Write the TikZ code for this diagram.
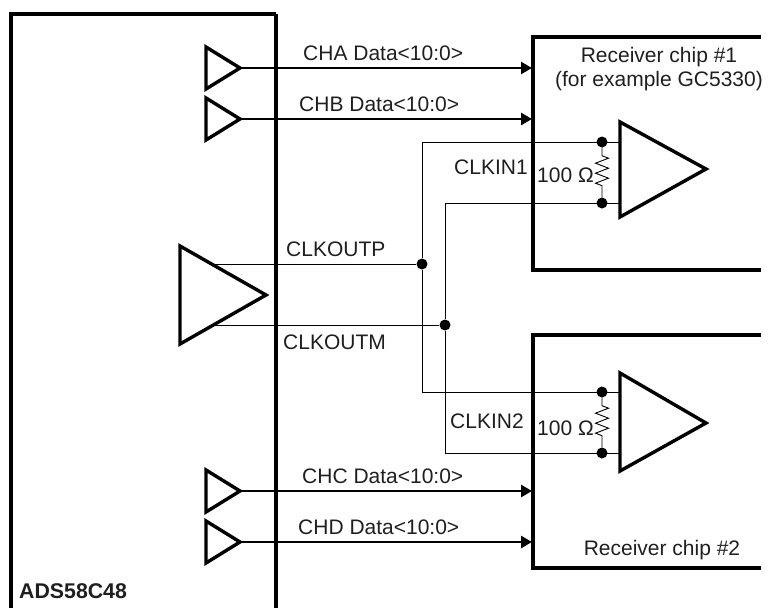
\documentclass[tikz,border=0pt]{standalone}
\usepackage{fontspec}
\setmainfont{Liberation Sans}
\usetikzlibrary{arrows.meta,decorations.pathmorphing}
\tikzset{
  gate/.style={draw=black,line width=3.4pt,miter limit=10,fill=white},
  chipline/.style={draw=black,line width=3.6pt},
  bus/.style={draw=black,line width=2.7pt,-{Triangle[length=11pt,width=12pt]}},
  clkwire/.style={draw=black,line width=1pt},
  dotnode/.style={circle,fill=black,inner sep=0pt,minimum size=#1},
  lbl/.style={inner sep=0pt,text=black!88,font=\fontsize{21}{25}\selectfont},
  res/.style={draw=black,line width=0.9pt,decorate,decoration={zigzag,amplitude=6.5pt,segment length=10pt,pre length=8pt,post length=8pt}}
}
\begin{document}
\begin{tikzpicture}[x=1pt,y=-1pt]
 \useasboundingbox (0,0) rectangle (768,611);
 % big chip
 \draw[chipline,line width=4.4pt] (276,14) -- (11,14) -- (11,608);
 \draw[chipline] (276,14) -- (276,608);
 \node[lbl,anchor=west,font=\fontsize{21.3}{25}\selectfont\bfseries] (adsname) at (19,591) {ADS58C48};
 % receiver chips
 \foreach \rx/\t/\b in {one/37/270,two/335/568}
   \draw[chipline] (761,\t) -- (533,\t) -- (533,\b) -- (761,\b);
 % clock driver and its wires
 \coordinate (clkp) at (215,264);
 \coordinate (clkm) at (215,325);
 \node[dotnode=11pt] (jointp) at (422,264) {};
 \node[dotnode=11pt] (jointm) at (445,325) {};
 \coordinate (upp) at (422,142);
 \coordinate (upm) at (445,203);
 \coordinate (downp) at (422,392);
 \coordinate (downm) at (445,453);
 \draw[clkwire] (clkp) -- (jointp);
 \draw[clkwire] (clkm) -- (jointm);
 \draw[clkwire] (jointp) -- (upp) -- (620,142);
 \draw[clkwire] (jointm) -- (upm) -- (620,203);
 \draw[clkwire] (jointp) -- (downp) -- (620,392);
 \draw[clkwire] (jointm) -- (downm) -- (620,453);
 \draw[gate,fill=none] (180,246) -- (180,344) -- (266,295) -- cycle;
 % receiver inputs
 \foreach \rx/\a/\c in {one/142/203,two/392/453} {
   \node[dotnode=11pt] (\rx p) at (602,\a) {};
   \node[dotnode=11pt] (\rx m) at (602,\c) {};
   \draw[res] (\rx p) -- (\rx m);
 }
 \draw[gate] (620,122) -- (620,217) -- (706,169) -- cycle;
 \draw[gate] (620,373) -- (620,471) -- (706,423) -- cycle;
 % data channels
 \foreach \ch/\y in {cha/68,chb/119,chc/491,chd/542} {
   \draw[gate] (206,\y-21) -- (206,\y+21) -- (240,\y) -- cycle;
   \coordinate (\ch out) at (241,\y);
   \coordinate (\ch in) at (532,\y);
   \draw[bus] (\ch out) -- (\ch in);
 }
 \node[lbl,anchor=west] (chalbl) at (303,53) {CHA Data<10:0>};
 \node[lbl,anchor=west] (chblbl) at (299,104) {CHB Data<10:0>};
 \node[lbl,anchor=west] (chclbl) at (302,476) {CHC Data<10:0>};
 \node[lbl,anchor=west] (chdlbl) at (298,527) {CHD Data<10:0>};
 \node[lbl,anchor=west] (clkplbl) at (286,249) {CLKOUTP};
 \node[lbl,anchor=west] (clkmlbl) at (283,342) {CLKOUTM};
 \node[lbl,anchor=west] (clkinone) at (454,167) {CLKIN1};
 \node[lbl,anchor=west] (clkintwo) at (450,421) {CLKIN2};
 \node[lbl,anchor=west] (resone) at (537,175) {100 Ω};
 \node[lbl,anchor=west] (restwo) at (537,428) {100 Ω};
 \node[lbl] (rxone) at (659,57) {Receiver chip \#1};
 \node[lbl] (rxonenote) at (659,81) {(for example GC5330)};
 \node[lbl] (rxtwo) at (662,550) {Receiver chip \#2};
\end{tikzpicture}
\end{document}
